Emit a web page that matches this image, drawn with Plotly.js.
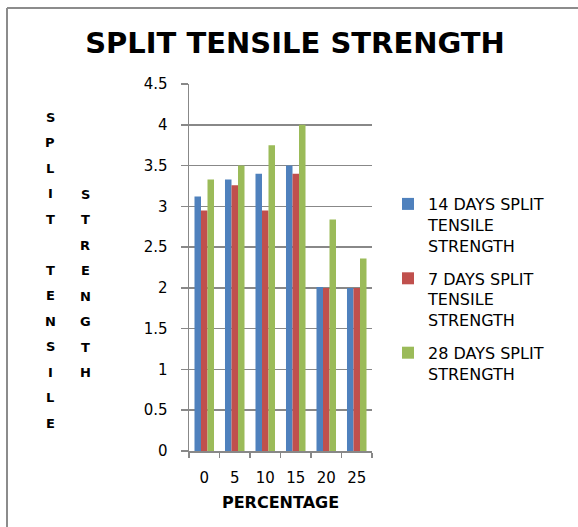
<!DOCTYPE html>
<html>
<head>
<meta charset="utf-8">
<script src="https://cdn.plot.ly/plotly-3.0.1.min.js"></script>
<style>html,body{margin:0;padding:0;background:#fff;}#chart{width:578px;height:527px;}</style>
</head>
<body>
<div id="chart"></div>
<script>
const categories = ['0', '5', '10', '15', '20', '25'];
const days14 = [3.12, 3.33, 3.40, 3.50, 2.01, 2.00];
const days7 = [2.95, 3.26, 2.95, 3.40, 2.00, 2.00];
const days28 = [3.33, 3.50, 3.75, 4.00, 2.84, 2.36];
const seriesNames = ['14 DAYS SPLIT<br>TENSILE<br>STRENGTH', '7 DAYS SPLIT<br>TENSILE<br>STRENGTH', '28 DAYS SPLIT<br>STRENGTH'];
const colors = ['#4F81BD', '#C0504D', '#9BBB59'];
const yTitleCol1 = 'SPLIT TENSILE';
const yTitleCol2 = 'STRENGTH';

const FONT = 'DejaVu Sans, sans-serif';
const W = 578, H = 527;
const L = 189, R = 372, T = 84, B = 451;
const pw = R - L, ph = B - T;
const px = x => (x - L) / pw;
const py = y => (B - y) / ph;

const traces = [days14, days7, days28].map((v, i) => ({
  type: 'bar', x: categories, y: v, name: seriesNames[i],
  marker: {color: colors[i]}, legendgroup: 'g' + i, hoverinfo: 'none'
}));

const annotations = [];
function column(str, cx, startY, step) {
  for (let i = 0; i < str.length; i++) {
    const ch = str[i];
    if (ch === ' ') continue;
    annotations.push({
      xref: 'paper', yref: 'paper', x: px(cx), y: py(startY + i * step),
      text: '<b>' + ch + '</b>', showarrow: false, xanchor: 'center', yanchor: 'middle',
      font: {family: FONT, size: 13, color: '#000'}
    });
  }
}
column(yTitleCol1, 50, 117, 25.5);
column(yTitleCol2, 85, 194, 25.5);

const layout = {
  width: W, height: H,
  margin: {l: L, r: W - R, t: T, b: H - B, pad: 0},
  paper_bgcolor: '#fff', plot_bgcolor: '#fff',
  font: {family: FONT, color: '#000', size: 15},
  title: {text: '<b>SPLIT TENSILE STRENGTH</b>', x: 295 / W, xanchor: 'center', y: 1 - 43 / H, yanchor: 'middle',
          font: {family: FONT, size: 29, color: '#000'}},
  barmode: 'group', bargap: 0.36, bargroupgap: 0,
  xaxis: {
    type: 'category', showgrid: false, showline: true, linecolor: '#888888', linewidth: 1.5,
    ticks: 'outside', tickson: 'boundaries', ticklen: 5, tickcolor: '#888888', tickwidth: 1.5,
    tickfont: {size: 15}, zeroline: false, ticklabelstandoff: 12,
    title: {text: '<b>PERCENTAGE</b>', font: {size: 16}, standoff: 11}
  },
  yaxis: {
    range: [0, 4.5], dtick: 0.5, showgrid: true, gridcolor: '#888888', gridwidth: 1.5,
    showline: true, linecolor: '#888888', linewidth: 1.5, zeroline: false,
    ticks: 'outside', ticklen: 7, tickcolor: '#888888', tickwidth: 1.5,
    tickfont: {size: 15}, ticklabelstandoff: 10
  },
  legend: {
    x: px(388), xanchor: 'left', y: py(187), yanchor: 'top',
    font: {family: FONT, size: 16, color: '#000'}, valign: 'top',
    tracegroupgap: 9, traceorder: 'grouped', bgcolor: 'rgba(0,0,0,0)'
  },
  showlegend: true,
  annotations: annotations,
  shapes: [
    {type: 'line', xref: 'paper', yref: 'paper', x0: px(7), x1: px(7), y0: py(8), y1: py(H), line: {color: '#8c8c8c', width: 2}},
    {type: 'line', xref: 'paper', yref: 'paper', x0: px(7), x1: px(W), y0: py(8), y1: py(8), line: {color: '#8c8c8c', width: 2}}
  ]
};

Plotly.newPlot('chart', traces, layout, {displayModeBar: false, staticPlot: true});
</script>
</body>
</html>
